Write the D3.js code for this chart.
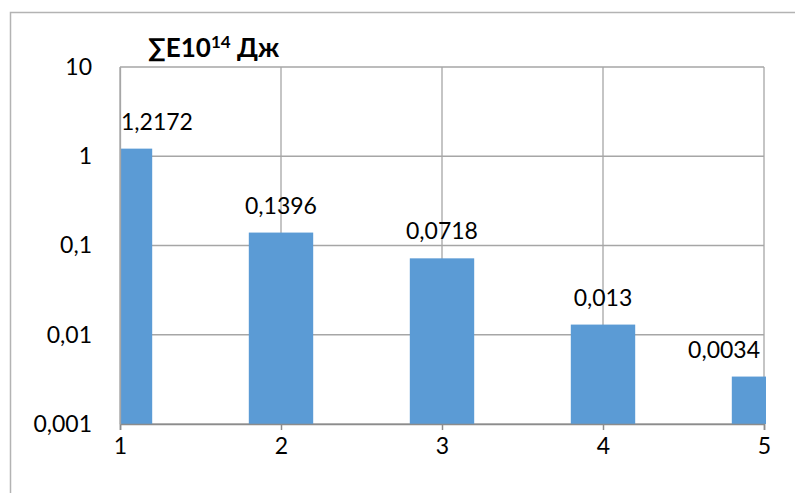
<!DOCTYPE html>
<html>
<head>
<meta charset="utf-8">
<script src="https://cdn.jsdelivr.net/npm/d3@7"></script>
<style>
  html, body { margin: 0; padding: 0; background: #fff; }
  svg { display: block; font-family: Lato, "Open Sans", sans-serif; }
</style>
</head>
<body>
<svg id="chart" width="795" height="493"></svg>
<script>
// Energy per group, log scale
const categories = [1, 2, 3, 4, 5];
const values = [1.2172, 0.1396, 0.0718, 0.013, 0.0034];
const valueLabels = ["1,2172", "0,1396", "0,0718", "0,013", "0,0034"];
const yTicks = [0.001, 0.01, 0.1, 1, 10];
const yTickLabels = ["0,001", "0,01", "0,1", "1", "10"];

const svg = d3.select("#chart");
const W = 795, H = 493;
const m = { left: 120, top: 67, right: 764, bottom: 424 };
const FS = 23;

// outer chart frame
svg.append("rect")
  .attr("x", 10.5).attr("y", 12.5)
  .attr("width", W).attr("height", H)
  .attr("fill", "#fff").attr("stroke", "#b3b3b3").attr("stroke-width", 1.5);

const x = d3.scaleLinear().domain([1, 5]).range([m.left, m.right]);
const y = d3.scaleLog().domain([0.001, 10]).range([m.bottom, m.top]);
const barW = 0.4; // in x units

svg.append("defs").append("clipPath").attr("id", "plot")
  .append("rect").attr("x", m.left).attr("y", m.top)
  .attr("width", m.right - m.left + 2).attr("height", m.bottom - m.top);

// gridlines
const grid = svg.append("g").attr("stroke", "#a6a6a6").attr("stroke-width", 1.3);
grid.selectAll("line.h").data(yTicks).join("line")
  .attr("x1", m.left).attr("x2", m.right)
  .attr("y1", d => y(d)).attr("y2", d => y(d));
grid.selectAll("line.v").data(categories).join("line")
  .attr("x1", d => x(d)).attr("x2", d => x(d))
  .attr("y1", m.top).attr("y2", m.bottom);

// bars
svg.append("g").attr("clip-path", "url(#plot)")
  .selectAll("rect").data(values).join("rect")
  .attr("x", (d, i) => x(categories[i] - barW / 2))
  .attr("width", x(1 + barW) - x(1))
  .attr("y", d => y(d))
  .attr("height", d => y(0.001) - y(d))
  .attr("fill", "#5b9bd5");

// x axis
const xAxis = svg.append("g").attr("transform", `translate(0,${m.bottom})`)
  .call(d3.axisBottom(x).tickValues(categories).tickFormat(d3.format("d")).tickSize(6).tickPadding(8));
xAxis.select(".domain").attr("stroke", "#8c8c8c").attr("stroke-width", 1.5);
xAxis.selectAll(".tick line").attr("stroke", "#8c8c8c").attr("stroke-width", 1.5);
xAxis.selectAll("text").attr("font-size", FS).attr("fill", "#000")
  .attr("font-family", "Lato, 'Open Sans', sans-serif");

// y axis labels
const yAxis = svg.append("g").attr("transform", `translate(${m.left},0)`)
  .call(d3.axisLeft(y).tickValues(yTicks).tickFormat((d, i) => yTickLabels[i]).tickSize(0).tickPadding(28));
yAxis.select(".domain").attr("stroke", "#a6a6a6").attr("stroke-width", 1.3);
yAxis.selectAll("text").attr("font-size", FS).attr("fill", "#000")
  .attr("font-family", "Lato, 'Open Sans', sans-serif");

// value labels, kept inside the plot area
svg.append("g").selectAll("text").data(values).join("text")
  .attr("font-size", FS).attr("fill", "#000").attr("text-anchor", "middle")
  .text((d, i) => valueLabels[i])
  .attr("y", d => y(d) - 19)
  .each(function (d, i) {
    const w = this.getComputedTextLength();
    let cx = x(categories[i]);
    cx = Math.max(m.left + w / 2 + 1, Math.min(m.right - w / 2 - 4, cx));
    d3.select(this).attr("x", cx);
  });

// title
const title = svg.append("text").attr("x", 148).attr("y", 57)
  .attr("font-size", 26).attr("font-weight", "bold").attr("fill", "#000");
title.append("tspan").text("∑E10");
title.append("tspan").attr("font-size", 17).attr("dy", -9).text("14");
title.append("tspan").attr("dy", 9).text(" Дж");
</script>
</body>
</html>
